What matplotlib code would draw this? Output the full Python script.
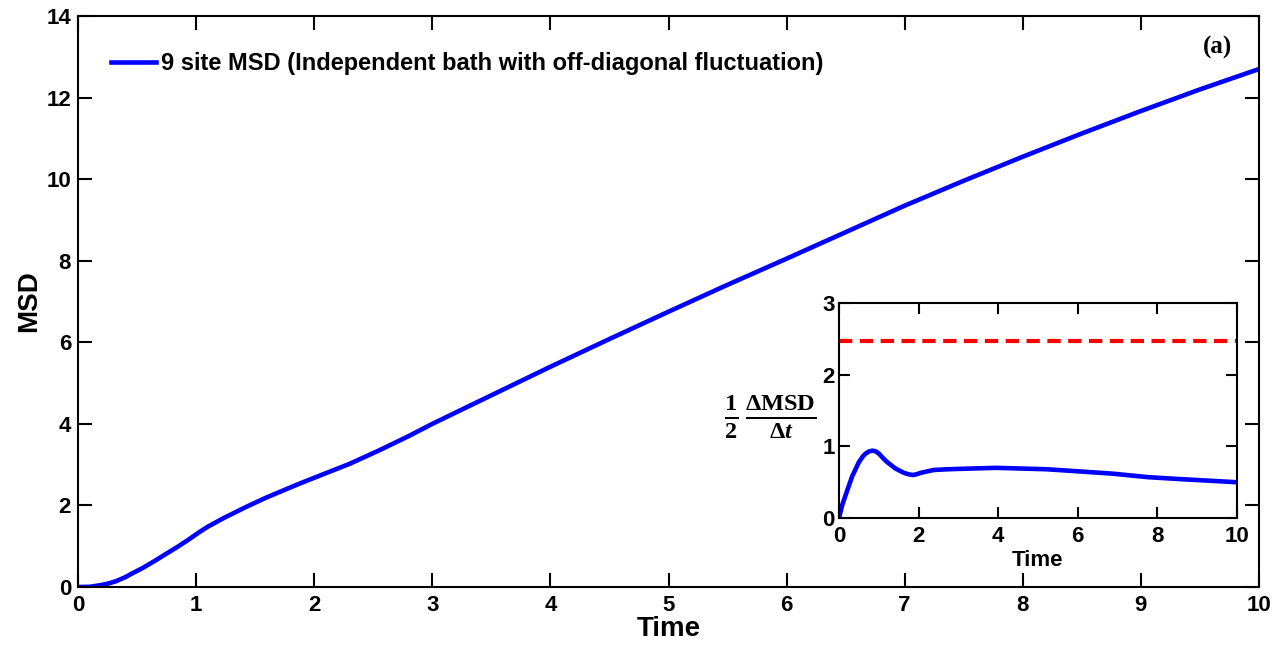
import matplotlib
matplotlib.use("Agg")
import matplotlib.pyplot as plt

# Main curve: MSD vs Time
t_main = [0.0, 0.1, 0.18, 0.25, 0.32, 0.40, 0.45, 0.55, 0.65, 0.75, 0.84, 0.92, 1.03, 1.10,
          1.17, 1.24, 1.31, 1.40, 1.48, 1.60, 1.74, 1.88, 2.02, 2.16, 2.30, 2.55, 2.8, 3.0,
          3.5, 4.0, 4.5, 5.0, 5.5, 6.0, 6.5, 7.0, 7.5, 8.0, 8.5, 9.0, 9.5, 10.0]
msd_main = [0.0, 0.005, 0.04, 0.08, 0.14, 0.24, 0.32, 0.47, 0.64, 0.82, 0.98, 1.13, 1.35, 1.48,
            1.59, 1.70, 1.80, 1.93, 2.04, 2.20, 2.37, 2.54, 2.70, 2.86, 3.02, 3.35, 3.70, 4.0,
            4.7, 5.4, 6.08, 6.75, 7.41, 8.05, 8.7, 9.35, 9.96, 10.55, 11.12, 11.67, 12.2, 12.7]

# Inset: half derivative of MSD
t_ins = [0.0, 0.08, 0.21, 0.33, 0.50, 0.60, 0.67, 0.76, 0.84, 0.92, 1.0, 1.10, 1.21, 1.42,
         1.63, 1.75, 1.84, 1.95, 2.05, 2.38, 2.72, 3.3, 3.95, 4.59, 5.22, 6.04, 6.85, 7.76,
         8.66, 9.97]
d_ins = [0.0, 0.18, 0.39, 0.58, 0.78, 0.86, 0.90, 0.93, 0.94, 0.93, 0.90, 0.84, 0.78, 0.69,
         0.63, 0.61, 0.60, 0.61, 0.63, 0.67, 0.68, 0.69, 0.70, 0.69, 0.68, 0.65, 0.62, 0.57,
         0.54, 0.50]
ref_level = 2.47

xticks_main = list(range(0, 11))
yticks_main = [0, 2, 4, 6, 8, 10, 12, 14]
xticks_ins = [0, 2, 4, 6, 8, 10]
yticks_ins = [0, 1, 2, 3]

sans = ['Liberation Sans', 'DejaVu Sans']
plt.rcParams['font.family'] = sans
plt.rcParams['font.weight'] = 'bold'
plt.rcParams['mathtext.fontset'] = 'custom'
plt.rcParams['mathtext.rm'] = 'Liberation Serif:bold'
plt.rcParams['mathtext.it'] = 'Liberation Serif:bold:italic'
plt.rcParams['mathtext.bf'] = 'Liberation Serif:bold'

fig = plt.figure(figsize=(12.86, 6.52), dpi=100)
ax = fig.add_axes([78/1286, 1-587/652, (1259-78)/1286, (587-16)/652])
ax.plot(t_main, msd_main, color='#0000ff', lw=3.3,
        label='9 site MSD (Independent bath with off-diagonal fluctuation)')
ax.set_xlim(0, 10)
ax.set_ylim(0, 14)
ax.set_xticks(xticks_main)
ax.set_yticks(yticks_main)
ax.tick_params(direction='in', length=10, width=1.5, top=True, right=True,
               labelsize=16)
ax.tick_params(axis='x', pad=6)
ax.tick_params(axis='y', pad=5)
for lab in ax.get_xticklabels() + ax.get_yticklabels():
    lab.set_fontweight('bold')
for s in ax.spines.values():
    s.set_linewidth(1.5)
ax.set_xlabel('Time', fontsize=20, fontweight='bold', labelpad=0)
ax.set_ylabel('MSD', fontsize=20, fontweight='bold', labelpad=3)
leg = ax.legend(loc='upper left', frameon=False, fontsize=17, handlelength=1.9,
                handletextpad=0.2, bbox_to_anchor=(0.01, 0.974))
for txt in leg.get_texts():
    txt.set_fontweight('bold')
ax.text((1232-78)/1181, 1-(47-16)/571, '(a)', transform=ax.transAxes, ha='right',
        va='center', fontsize=18, fontweight='bold',
        family=['Liberation Serif', 'DejaVu Serif'])

ins = fig.add_axes([839/1286, 1-518/652, (1237-839)/1286, (518-303)/652])
ins.plot(t_ins, d_ins, color='#0000ff', lw=3.3)
ins.axhline(ref_level, color='#ff0000', lw=3, ls=(0, (3.2, 1.8)))
ins.set_xlim(0, 10)
ins.set_ylim(0, 3)
ins.set_xticks(xticks_ins)
ins.set_yticks(yticks_ins)
ins.tick_params(direction='in', length=8, width=1.5, top=True, right=True,
                labelsize=16, pad=3)
ins.tick_params(axis='x', pad=6)
for lab in ins.get_xticklabels() + ins.get_yticklabels():
    lab.set_fontweight('bold')
for s in ins.spines.values():
    s.set_linewidth(1.5)
ins.set_xlabel('Time', fontsize=16, fontweight='bold', labelpad=2)
fig.text(770/1286, 1-417/652, r'$\frac{1}{2}\,\frac{\Delta\mathrm{MSD}}{\Delta t}$',
         ha='center', va='center', fontsize=25)

fig.savefig('out.png', dpi=100)
